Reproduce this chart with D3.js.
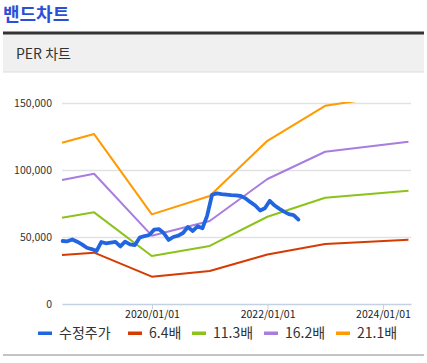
<!DOCTYPE html>
<html>
<head>
<meta charset="utf-8">
<script src="https://cdn.jsdelivr.net/npm/d3@7"></script>
<style>
  html, body { margin: 0; padding: 0; background: #fff; }
  body { width: 427px; height: 363px; overflow: hidden; font-family: "Noto Sans CJK KR", "Noto Sans", sans-serif; }
</style>
</head>
<body>
<svg id="chart" width="427" height="363"></svg>
<script>
/* Band dates (year-end points, plus first and last day) */
const bandDates = ['2018-06-11', '2018-12-31', '2019-12-31', '2020-12-31',
    '2021-12-31', '2022-12-31', '2024-06-10'];

/* PER band values */
const band64 = [36600, 38300, 20400, 24600, 37000, 44800, 48000];
const band113 = [64400, 68400, 35800, 43300, 65100, 79300, 84500];
const band162 = [92500, 97200, 51000, 61900, 93300, 113600, 121000];
const band211 = [120300, 126800, 66900, 80600, 121800, 147900, 157500];

/* Monthly adjusted price, starting 2018-06 */
const priceStart = '2018-06-15';
const priceValues = [
  47000, 46800, 48200, 46500, 44500, 42000, 41000, 39500, 46300, 45300,
  45800, 46300, 43000, 46500, 44500, 44000, 49500, 50700, 51500, 55500,
  55800, 53000, 47800, 50000, 51000, 53000, 57500, 54500, 58000, 56500,
  66000, 81500, 82600, 82000, 81700, 81300, 81000, 80600, 78800, 76000,
  73500, 69800, 71500, 77000, 73500, 71200, 68900, 67100, 66400, 63000
];

const yTicks = [0, 50000, 100000, 150000];
const xTickDates = ['2020-01-01', '2022-01-01', '2024-01-01'];

const seriesNames = ['수정주가', '6.4배', '11.3배', '16.2배', '21.1배'];
const seriesColors = ['#2166e0', '#d63b02', '#8cc21c', '#a87ddf', '#ff9a00'];

let parse = d3.timeParse('%Y-%m-%d');
let svg = d3.select('#chart');

/* Header */
svg.append('text')
    .attr('x', 3)
    .attr('y', 21)
    .attr('fill', '#2b50d6')
    .attr('font-size', 18)
    .attr('font-weight', 'bold')
    .text('밴드차트');
svg.append('rect')
    .attr('x', 3).attr('y', 34)
    .attr('width', 421).attr('height', 38)
    .attr('fill', '#f0f0f0');
svg.append('rect')
    .attr('x', 3).attr('y', 31.5)
    .attr('width', 421).attr('height', 3)
    .attr('fill', '#333');
svg.append('rect')
    .attr('x', 3).attr('y', 71.5)
    .attr('width', 421).attr('height', 1)
    .attr('fill', '#dcdcdc');
svg.append('text')
    .attr('x', 16)
    .attr('y', 59)
    .attr('fill', '#333')
    .attr('font-size', 14)
    .text('PER 차트');

/* Scales */
let plot = { left: 62, right: 411, top: 103, bottom: 304 };
let x = d3.scaleTime()
    .domain([parse('2018-06-11'), parse('2024-06-26')])
    .range([plot.left, plot.right]);
let y = d3.scaleLinear()
    .domain([0, 150000])
    .range([plot.bottom, plot.top]);

/* Grid lines */
svg.append('g')
    .attr('class', 'y-grid-lines')
    .selectAll('line')
    .data(yTicks.filter(d => d > 0))
    .join('line')
    .attr('x1', plot.left)
    .attr('x2', plot.right)
    .attr('y1', d => Math.round(y(d)) + 0.5)
    .attr('y2', d => Math.round(y(d)) + 0.5)
    .attr('stroke', '#e2e2e2')
    .attr('stroke-width', 1.5);

/* Y axis */
let yAxisD3 = svg.append('g')
    .attr('class', 'y-axis')
    .attr('transform', `translate(${plot.left - 10},0)`)
    .call(d3.axisLeft(y)
        .tickValues(yTicks)
        .tickSize(0)
        .tickPadding(0)
        .tickFormat(d3.format(',')));
yAxisD3.select('.domain').remove();
yAxisD3.selectAll('text')
    .attr('fill', '#333')
    .attr('font-size', 10.5)
    .attr('font-family', '"Noto Sans CJK KR", sans-serif');

/* X axis */
let xAxisD3 = svg.append('g')
    .attr('class', 'x-axis')
    .attr('transform', `translate(0,${plot.bottom})`)
    .call(d3.axisBottom(x)
        .tickValues(xTickDates.map(parse))
        .tickSize(5)
        .tickSizeOuter(0)
        .tickPadding(2)
        .tickFormat(d3.timeFormat('%Y/%m/%d')));
xAxisD3.select('.domain')
    .attr('stroke', '#c3d1e2')
    .attr('stroke-width', 1.5);
xAxisD3.selectAll('.tick line')
    .attr('stroke', '#c3d1e2');
xAxisD3.selectAll('text')
    .attr('fill', '#222')
    .attr('font-size', 10.5)
    .attr('font-family', '"Noto Sans CJK KR", sans-serif');

/* Clip for lines going above 150,000 */
svg.append('clipPath')
    .attr('id', 'plot-clip')
    .append('rect')
    .attr('x', plot.left - 2)
    .attr('y', plot.top - 1)
    .attr('width', plot.right - plot.left + 4)
    .attr('height', plot.bottom - plot.top + 2);

let dataContainerD3 = svg.append('g')
    .attr('class', 'data-container-group')
    .attr('clip-path', 'url(#plot-clip)');

let line = d3.line()
    .x(d => x(d.date))
    .y(d => y(d.value));

let bands = [band64, band113, band162, band211];
bands.forEach((values, i) => {
  let data = values.map((v, j) => ({ date: parse(bandDates[j]), value: v }));
  dataContainerD3.append('path')
      .datum(data)
      .attr('fill', 'none')
      .attr('stroke', seriesColors[i + 1])
      .attr('stroke-width', 2)
      .attr('stroke-linejoin', 'round')
      .attr('d', line);
});

let start = parse(priceStart);
let priceData = priceValues.map((v, i) => ({ date: d3.timeMonth.offset(start, i), value: v }));
dataContainerD3.append('path')
    .datum(priceData)
    .attr('fill', 'none')
    .attr('stroke', seriesColors[0])
    .attr('stroke-width', 3.8)
    .attr('stroke-linejoin', 'round')
    .attr('stroke-linecap', 'round')
    .attr('d', line);

/* Legend */
let legendD3 = svg.append('g')
    .attr('class', 'legend')
    .attr('transform', 'translate(0,333)');
let legendX = [38, 128, 192, 264, 336];
seriesNames.forEach((name, i) => {
  let item = legendD3.append('g')
      .attr('transform', `translate(${legendX[i]},0)`);
  item.append('rect')
      .attr('x', 0).attr('y', -1.5)
      .attr('width', 14).attr('height', 3.5)
      .attr('fill', seriesColors[i]);
  item.append('text')
      .attr('x', 21)
      .attr('y', 0)
      .attr('dy', '0.35em')
      .attr('fill', '#333')
      .attr('font-size', 14)
      .text(name);
});

/* Bottom rule */
svg.append('rect')
    .attr('x', 3).attr('y', 354)
    .attr('width', 421).attr('height', 2)
    .attr('fill', '#c4c4c4');
</script>
</body>
</html>
